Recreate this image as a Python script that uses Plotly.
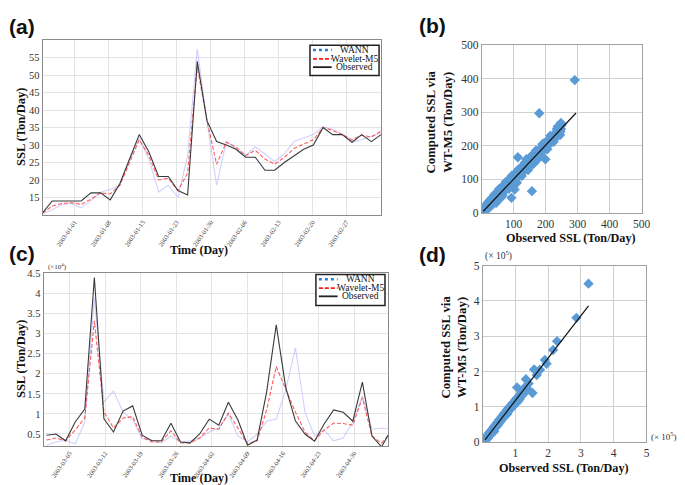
import plotly.graph_objects as go

W, H = 685, 485
SERIF = "Liberation Serif"

# ---------------- data ----------------
# (a) time series, sample index
idx_a = list(range(36))
obs_a = [10.6, 14.0, 14.0, 14.0, 14.0, 16.3, 16.3, 14.3, 19.0, 26.0, 33.0, 28.0, 21.0, 21.0, 17.0, 15.7,
         54.0, 37.0, 31.0, 30.0, 28.8, 26.5, 26.5, 22.8, 22.8, 25.0, 27.0, 28.8, 30.0, 35.0, 33.0, 33.0,
         30.8, 33.0, 31.0, 33.0]
m5_a = [10.5, 12.5, 13.3, 13.5, 13.0, 14.5, 16.3, 16.0, 18.5, 25.0, 31.5, 27.0, 20.0, 20.5, 17.0, 22.0,
        52.5, 37.0, 24.5, 30.8, 29.5, 27.0, 28.5, 26.0, 24.5, 26.5, 29.0, 30.3, 31.5, 35.0, 34.2, 33.0,
        31.5, 32.8, 32.3, 34.0]
wann_a = [10.3, 11.5, 13.0, 13.3, 12.0, 14.0, 16.5, 17.3, 18.5, 26.0, 32.0, 26.0, 16.5, 18.5, 15.0, 27.0,
          57.5, 37.0, 18.5, 31.0, 29.0, 27.0, 29.5, 27.5, 25.3, 27.5, 31.0, 32.0, 33.0, 35.3, 34.5, 33.0,
          30.8, 31.5, 32.5, 33.5]
a_ticklabels = ["2003-01-01", "2003-01-08", "2003-01-15", "2003-01-23", "2003-01-30",
                "2003-02-06", "2003-02-13", "2003-02-20", "2003-02-27"]
a_tickpos = [3.3, 6.85, 10.35, 13.85, 17.4, 20.9, 24.4, 27.9, 31.4]
a_yticks = [15, 20, 25, 30, 35, 40, 45, 50, 55]

# (c) time series (x 10^4), sample index
idx_c = list(range(37))
obs_c = [0.47, 0.50, 0.33, 0.80, 1.12, 4.40, 0.88, 0.55, 1.07, 1.20, 0.47, 0.33, 0.33, 0.77, 0.30, 0.28,
         0.50, 0.87, 0.72, 1.29, 0.85, 0.22, 0.35, 1.55, 3.22, 1.65, 0.83, 0.50, 0.32, 0.75, 1.10, 1.04,
         0.82, 1.79, 0.45, 0.18, 0.60]
m5_c = [0.35, 0.40, 0.33, 0.60, 0.90, 3.32, 1.05, 0.65, 0.90, 0.93, 0.42, 0.30, 0.30, 0.58, 0.28, 0.27,
        0.40, 0.65, 0.62, 1.02, 0.65, 0.25, 0.33, 1.10, 2.18, 1.60, 1.05, 0.55, 0.33, 0.60, 0.77, 0.76,
        0.72, 1.40, 0.45, 0.27, 0.55]
wann_c = [0.22, 0.30, 0.35, 0.25, 0.80, 3.90, 1.30, 1.57, 1.05, 0.85, 0.38, 0.35, 0.28, 0.45, 0.30, 0.33,
          0.40, 0.55, 0.65, 1.00, 0.45, 0.30, 0.50, 0.82, 0.87, 1.60, 2.65, 1.05, 0.45, 0.60, 0.33, 0.40,
          0.80, 1.45, 0.62, 0.65, 0.63]
c_ticklabels = ["2003-03-05", "2003-03-12", "2003-03-19", "2003-03-26", "2003-04-02",
                "2003-04-09", "2003-04-16", "2003-04-23", "2003-04-30"]
c_tickpos = [2.4, 6.12, 9.83, 13.55, 17.26, 20.98, 24.7, 28.41, 32.13]
c_yticks = [0.5, 1, 1.5, 2, 2.5, 3, 3.5, 4, 4.5]
c_yticktext = ["0.5", "1", "1.5", "2", "2.5", "3", "3.5", "4", "4.5"]

# (b) scatter observed vs computed (Ton/Day)
obs_b = [8, 10, 12, 13, 15, 16, 18, 19, 20, 22, 23, 25, 26, 28, 29, 30, 32, 33, 35, 36, 38, 39, 40, 42,
         44, 45, 47, 48, 50, 52, 53, 55, 57, 58, 60, 62, 64, 65, 67, 69, 70, 72, 74, 75, 77, 79, 80, 82,
         84, 85, 87, 89, 90, 92, 94, 96, 98, 100, 102, 104, 106, 108, 110, 112, 114, 116, 118, 120, 122,
         124, 126, 128, 130, 132, 134, 136, 138, 140, 142, 144, 146, 148, 150, 152, 154, 156, 158, 160,
         162, 164, 166, 168, 170, 172, 175, 178, 180, 183, 186, 190, 193, 196, 200, 203, 206, 210, 213,
         216, 220, 223, 226, 230, 233, 236, 240, 243, 246, 250,
         55, 65, 75, 85, 95, 105, 115, 125, 135, 145, 155, 165, 170, 185, 195, 205, 215, 225, 235, 245,
         30, 40, 20, 45, 60, 110, 140, 160, 175, 190, 208, 228, 238, 248,
         93, 103, 157, 199, 113, 180, 291, 248]
comp_b = [12, 6, 22, 15, 8, 25, 16, 30, 14, 26, 18, 37, 27, 20, 38, 28, 45, 30, 27, 44, 36, 52, 34, 46,
          38, 58, 44, 40, 60, 49, 66, 50, 52, 68, 56, 74, 60, 58, 78, 66, 84, 68, 70, 88, 74, 92, 75, 86,
          80, 98, 84, 104, 86, 100, 90, 108, 94, 112, 98, 115, 100, 120, 105, 124, 110, 126, 112, 132, 116,
          134, 120, 140, 124, 142, 128, 148, 132, 150, 136, 154, 140, 158, 144, 160, 148, 166, 150, 168,
          156, 172, 160, 176, 164, 180, 170, 186, 176, 190, 180, 196, 188, 202, 198, 208, 200, 214, 206,
          222, 214, 228, 220, 236, 228, 244, 236, 250, 242, 262,
          72, 52, 92, 72, 112, 92, 130, 110, 150, 128, 170, 150, 186, 172, 208, 190, 230, 212, 250, 232,
          40, 55, 32, 30, 45, 90, 160, 145, 160, 205, 218, 222, 258, 250,
          45, 70, 65, 160, 166, 297, 396, 268]
fit_b_x = [5, 295]
fit_b_y = [5, 298]
b_ticks = [0, 100, 200, 300, 400, 500]

# (d) scatter observed vs computed (x 10^5 Ton/Day)
obs_d = [0.02, 0.04, 0.05, 0.07, 0.08, 0.10, 0.11, 0.13, 0.14, 0.16, 0.17, 0.19, 0.20, 0.22, 0.23, 0.25,
         0.27, 0.28, 0.30, 0.32, 0.33, 0.35, 0.37, 0.38, 0.40, 0.42, 0.44, 0.45, 0.47, 0.49, 0.50, 0.52,
         0.54, 0.56, 0.58, 0.60, 0.62, 0.64, 0.66, 0.68, 0.70, 0.72, 0.74, 0.76, 0.78, 0.80, 0.82, 0.85,
         0.88, 0.90, 0.93, 0.96, 1.00, 1.02, 1.05, 1.08, 1.10, 1.13, 1.16, 1.20, 1.24, 1.28, 1.32, 1.36, 1.40,
         0.15, 0.25, 0.35, 0.45, 0.55, 0.65, 0.75, 0.85, 0.95, 1.15, 1.25,
         1.05, 1.32, 1.52, 1.57, 1.65, 1.75, 1.90, 1.95, 2.15, 2.27, 2.86, 3.23]
comp_d = [0.03, 0.01, 0.08, 0.04, 0.12, 0.07, 0.15, 0.10, 0.19, 0.13, 0.22, 0.17, 0.26, 0.20, 0.30, 0.24,
          0.34, 0.27, 0.38, 0.31, 0.42, 0.36, 0.46, 0.40, 0.50, 0.44, 0.55, 0.48, 0.58, 0.52, 0.63, 0.57,
          0.66, 0.61, 0.72, 0.66, 0.76, 0.70, 0.81, 0.74, 0.86, 0.80, 0.91, 0.84, 0.96, 0.90, 1.00, 0.95,
          1.06, 0.98, 1.12, 1.06, 1.20, 1.10, 1.25, 1.16, 1.30, 1.22, 1.38, 1.32, 1.46, 1.40, 1.58, 1.52, 1.66,
          0.10, 0.22, 0.30, 0.48, 0.60, 0.72, 0.80, 0.96, 1.05, 1.30, 1.42,
          1.55, 1.78, 1.39, 2.06, 1.90, 2.05, 2.33, 2.22, 2.61, 2.86, 3.52, 4.49]
fit_d_x = [0.07, 3.23]
fit_d_y = [0.065, 3.86]
d_ticks = [0, 1, 2, 3, 4, 5]

series_names = ["WANN", "Wavelet-M5", "Observed"]

# ---------------- styling helpers ----------------
def px_x(p):
    return p / W

def px_y(p):
    return 1 - p / H

C_WANN = "rgba(170,170,255,0.55)"
C_M5 = "rgba(255,40,40,0.75)"
C_OBS = "#3a3a3a"
C_PT = "#5b9bd5"
M5_DASH = "4px,2px"

fig = go.Figure()

def ts_traces(x, wann, m5, obs, xa, ya):
    fig.add_trace(go.Scatter(x=x, y=wann, mode="lines", line=dict(color=C_WANN, width=1.1),
                             name=series_names[0], showlegend=False, xaxis=xa, yaxis=ya))
    fig.add_trace(go.Scatter(x=x, y=m5, mode="lines", line=dict(color=C_M5, width=1.1, dash=M5_DASH),
                             name=series_names[1], showlegend=False, xaxis=xa, yaxis=ya))
    fig.add_trace(go.Scatter(x=x, y=obs, mode="lines", line=dict(color=C_OBS, width=1.1),
                             name=series_names[2], showlegend=False, xaxis=xa, yaxis=ya))

ts_traces(idx_a, wann_a, m5_a, obs_a, "x", "y")
ts_traces(idx_c, wann_c, m5_c, obs_c, "x3", "y3")

def sc_traces(ox, cy, fx, fy, xa, ya):
    fig.add_trace(go.Scatter(x=ox, y=cy, mode="markers",
                             marker=dict(symbol="diamond", size=8, color=C_PT, line=dict(width=0)),
                             showlegend=False, xaxis=xa, yaxis=ya))
    fig.add_trace(go.Scatter(x=fx, y=fy, mode="lines", line=dict(color="#111111", width=1.2),
                             showlegend=False, xaxis=xa, yaxis=ya))

sc_traces(obs_b, comp_b, fit_b_x, fit_b_y, "x2", "y2")
sc_traces(obs_d, comp_d, fit_d_x, fit_d_y, "x4", "y4")

tick_font = dict(family=SERIF, size=10.5, color="#333333")
small_tick = dict(family=SERIF, size=6.5, color="#333333")

ts_x_common = dict(showgrid=True, gridcolor="#e4e4e4", gridwidth=1, showline=True, linecolor="#8a8a8a",
                   linewidth=1, mirror=True, ticks="", tickangle=-55, tickfont=small_tick, zeroline=False)
ts_y_common = dict(showgrid=True, gridcolor="#e4e4e4", gridwidth=1, showline=True, linecolor="#8a8a8a",
                   linewidth=1, mirror=True, ticks="", tickfont=tick_font, zeroline=False)
sc_common = dict(showgrid=True, gridcolor="#cfcfcf", gridwidth=1, showline=True, linecolor="#a0a0a0",
                 linewidth=1, mirror=True, ticks="", tickfont=dict(family=SERIF, size=11.5, color="#333333"),
                 zeroline=False)

annotations = []
shapes = []

def ann(text, x, y, size, family=SERIF, angle=0, bold=True, color="#111111", xanchor="center"):
    annotations.append(dict(text=("<b>%s</b>" % text) if bold else text, x=px_x(x), y=px_y(y),
                            xref="paper", yref="paper", showarrow=False, textangle=angle,
                            xanchor=xanchor, yanchor="middle",
                            font=dict(family=family, size=size, color=color)))

def legend_box(x0, y0, x1, y1, rows, text_cx):
    shapes.append(dict(type="rect", xref="paper", yref="paper", x0=px_x(x0), x1=px_x(x1),
                       y0=px_y(y1), y1=px_y(y0), line=dict(color="#222222", width=1.5),
                       fillcolor="white", layer="above"))
    styles = [dict(color="#2a7fd4", width=2.5, dash="dot"),
              dict(color="#ff1a1a", width=1.8, dash="4px,2px"),
              dict(color="#222222", width=1.8)]
    for name, ry, st in zip(series_names, rows, styles):
        shapes.append(dict(type="line", xref="paper", yref="paper", x0=px_x(x0 + 3), x1=px_x(x0 + 22),
                           y0=px_y(ry), y1=px_y(ry), line=st, layer="above"))
        ann(name, text_cx, ry, 9.5, bold=False, color="#111111")

legend_box(306, 32, 376, 63, [37, 46, 54.5], 351)
legend_box(312, 267, 382, 299, [272, 281, 289.5], 357)

# panel labels
ann("(a)", 14, 13, 21, family="Liberation Sans")
ann("(b)", 430, 12, 21, family="Liberation Sans")
ann("(c)", 14, 246, 21, family="Liberation Sans")
ann("(d)", 430, 247, 21, family="Liberation Sans")
# axis titles
ann("SSL (Ton/Day)", 13, 116, 12.5, angle=-90)
ann("Time (Day)", 194, 242, 12)
ann("SSL (Ton/Day)", 13, 354, 12.5, angle=-90)
ann("Time (Day)", 194, 476, 12)
ann("Computed SSL via<br>WT-M5 (Ton/Day)", 437, 111, 12.8, angle=-90)
ann("Observed SSL (Ton/Day)", 571, 230, 12.2)
ann("Computed SSL via<br>WT-M5 (Ton/Day)", 452, 342, 12.8, angle=-90)
ann("Observed SSL (Ton/Day)", 563, 466, 12.2)
# multipliers
ann("(×10<sup>4</sup>)", 50, 259, 7, bold=False, color="#333333")
ann("(× 10<sup>5</sup>)", 497, 248, 9.5, bold=False, color="#333333")
ann("(× 10<sup>5</sup>)", 650, 433, 9, bold=False, color="#333333", xanchor="left")

fig.update_layout(
    width=W, height=H, margin=dict(l=0, r=0, t=0, b=0),
    paper_bgcolor="white", plot_bgcolor="white",
    font=dict(family=SERIF),
    showlegend=False,
    xaxis=dict(domain=[px_x(35), px_x(378)], anchor="y", range=[0, 35],
               tickvals=a_tickpos, ticktext=a_ticklabels, **ts_x_common),
    yaxis=dict(domain=[px_y(206), px_y(27)], anchor="x", range=[10, 60], tickvals=a_yticks, **ts_y_common),
    xaxis3=dict(domain=[px_x(36), px_x(385)], anchor="y3", range=[-0.31, 35.67],
                tickvals=c_tickpos, ticktext=c_ticklabels, **ts_x_common),
    yaxis3=dict(domain=[px_y(443), px_y(266)], anchor="x3", range=[0.2, 4.5], tickvals=c_yticks,
                ticktext=c_yticktext, **ts_y_common),
    xaxis2=dict(domain=[px_x(480), px_x(642)], anchor="y2", range=[0, 500], tickvals=b_ticks[1:], **sc_common),
    yaxis2=dict(domain=[px_y(204), px_y(32)], anchor="x2", range=[0, 500], tickvals=b_ticks, **sc_common),
    xaxis4=dict(domain=[px_x(481), px_x(647)], anchor="y4", range=[0, 5], tickvals=d_ticks[1:], **sc_common),
    yaxis4=dict(domain=[px_y(439), px_y(258)], anchor="x4", range=[0, 5], tickvals=d_ticks, **sc_common),
    annotations=annotations,
    shapes=shapes,
)

fig.write_html("out.html")
